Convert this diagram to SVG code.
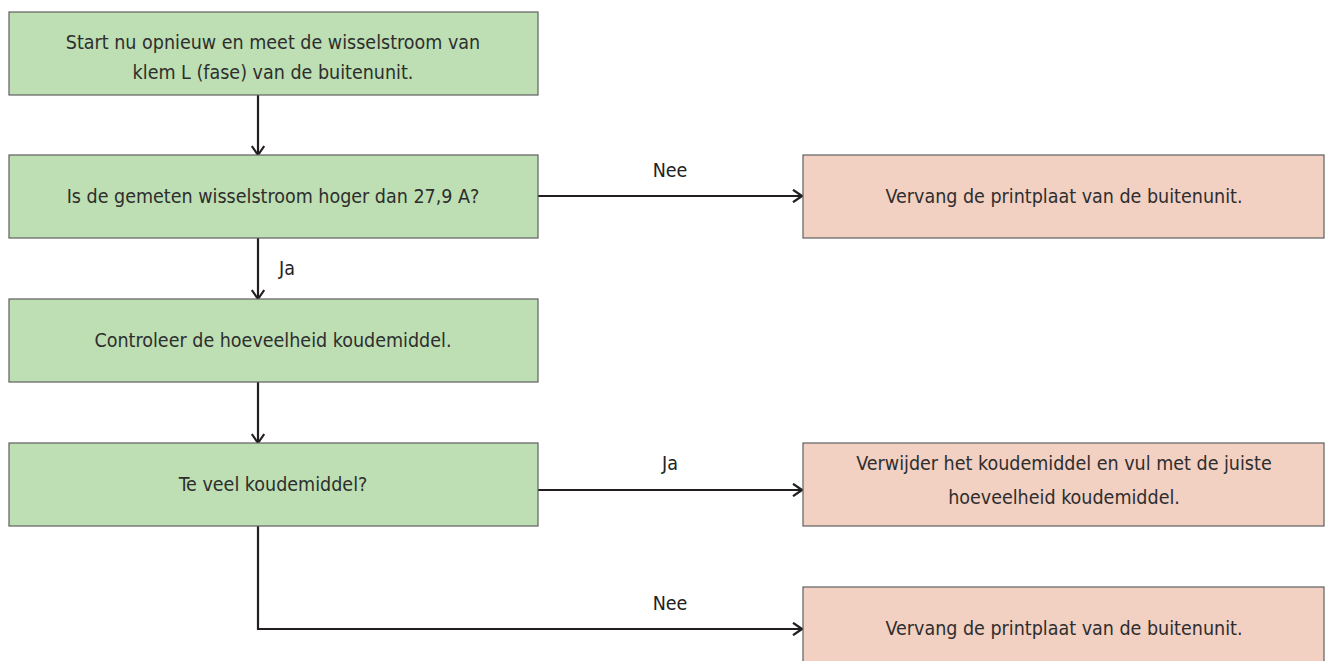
<svg xmlns="http://www.w3.org/2000/svg" width="1325" height="661" viewBox="0 0 1325 661">
<style>
.g{fill:#bddfb3;stroke:#5f5f5f;stroke-width:1.2}
.p{fill:#f2d0c2;stroke:#5f5f5f;stroke-width:1.2}
.t{font-family:"DejaVu Sans Condensed","DejaVu Sans",sans-serif;font-size:19.5px;fill:#2e2e2e;text-anchor:middle}
.l{font-family:"DejaVu Sans Condensed","DejaVu Sans",sans-serif;font-size:19.5px;fill:#222}
.c{fill:none;stroke:#231f20;stroke-width:2.2}
</style>
<defs>
<marker id="a" viewBox="0 0 11 14" refX="10" refY="7" markerWidth="11" markerHeight="14" markerUnits="userSpaceOnUse" orient="auto">
<path d="M1,0.8 L10,7 L1,13.2" fill="none" stroke="#231f20" stroke-width="2.2"/>
</marker>
</defs>
<g id="connectors">
<line class="c" x1="258" y1="95" x2="258" y2="155" marker-end="url(#a)"/>
<line class="c" x1="258" y1="238" x2="258" y2="299" marker-end="url(#a)"/>
<line class="c" x1="258" y1="382" x2="258" y2="443" marker-end="url(#a)"/>
<line class="c" x1="538" y1="196" x2="802" y2="196" marker-end="url(#a)"/>
<line class="c" x1="538" y1="490" x2="802" y2="490" marker-end="url(#a)"/>
<polyline class="c" points="258,526 258,629 802,629" marker-end="url(#a)"/>
<text class="l" x="279" y="275">Ja</text>
<text class="l" x="670" y="177" text-anchor="middle">Nee</text>
<text class="l" x="670" y="470" text-anchor="middle">Ja</text>
<text class="l" x="670" y="610" text-anchor="middle">Nee</text>
</g>
<g id="n1"><rect class="g" x="9" y="12" width="529" height="83"/>
<text class="t" x="273" y="49">Start nu opnieuw en meet de wisselstroom van</text>
<text class="t" x="273" y="79">klem L (fase) van de buitenunit.</text></g>
<g id="n2"><rect class="g" x="9" y="155" width="529" height="83"/>
<text class="t" x="273" y="203">Is de gemeten wisselstroom hoger dan 27,9 A?</text></g>
<g id="n3"><rect class="g" x="9" y="299" width="529" height="83"/>
<text class="t" x="273" y="347">Controleer de hoeveelheid koudemiddel.</text></g>
<g id="n4"><rect class="g" x="9" y="443" width="529" height="83"/>
<text class="t" x="273" y="491">Te veel koudemiddel?</text></g>
<g id="n5"><rect class="p" x="803" y="155" width="521" height="83"/>
<text class="t" x="1064" y="203">Vervang de printplaat van de buitenunit.</text></g>
<g id="n6"><rect class="p" x="803" y="443" width="521" height="83"/>
<text class="t" x="1064" y="470">Verwijder het koudemiddel en vul met de juiste</text>
<text class="t" x="1064" y="504">hoeveelheid koudemiddel.</text></g>
<g id="n7"><rect class="p" x="803" y="587" width="521" height="83"/>
<text class="t" x="1064" y="635">Vervang de printplaat van de buitenunit.</text></g>
</svg>
